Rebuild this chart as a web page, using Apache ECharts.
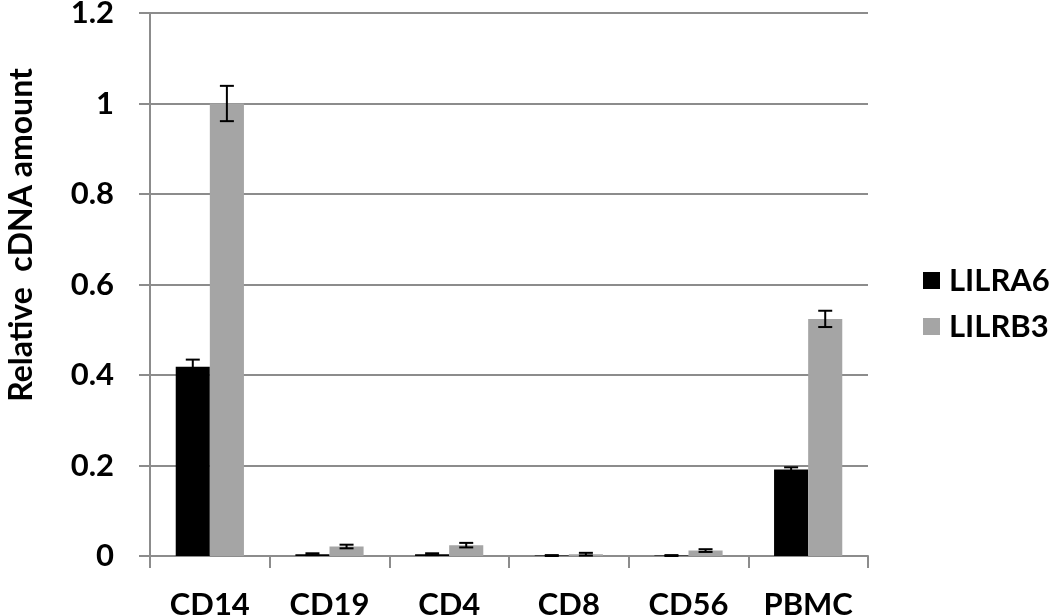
<!DOCTYPE html>
<html>
<head>
<meta charset="utf-8">
<script src="https://cdn.jsdelivr.net/npm/echarts@6/dist/echarts.min.js"></script>
<style>html,body{margin:0;padding:0;background:#fff}#c{width:1050px;height:615px}</style>
</head>
<body>
<div id="c"></div>
<script>
var categories = ['CD14', 'CD19', 'CD4', 'CD8', 'CD56', 'PBMC'];
var seriesNames = ['LILRA6', 'LILRB3'];
var lilra6 = [0.418, 0.004, 0.004, 0.001, 0.001, 0.191];
var lilra6Err = [0.016, 0.002, 0.002, 0.001, 0.001, 0.005];
var lilrb3 = [1.0, 0.021, 0.024, 0.004, 0.012, 0.524];
var lilrb3Err = [0.039, 0.004, 0.005, 0.003, 0.003, 0.018];
var yTicks = [0, 0.2, 0.4, 0.6, 0.8, 1, 1.2];
var yTitle = 'Relative  cDNA amount';

var FONT = 'Lato';
var FS = 31;
var CAT_GAP = 0.43;
var chart = echarts.init(document.getElementById('c'));

function errSeries(idx, vals, errs) {
  var data = vals.map(function (v, i) { return [i, v, errs[i]]; });
  return {
    type: 'custom',
    name: seriesNames[idx] + ' err',
    z: 10,
    silent: true,
    data: data,
    renderItem: function (params, api) {
      var ci = api.value(0), v = api.value(1), e = api.value(2);
      var bandW = api.size([1, 0])[0];
      var bw = bandW * (1 - CAT_GAP) / 2;
      var c = api.coord([ci, v]);
      var x = c[0] + (idx === 0 ? -bw / 2 : bw / 2);
      var top = api.coord([ci, v + e])[1];
      var bot = api.coord([ci, Math.max(v - e, 0)])[1];
      var cap = 7;
      var st = { stroke: '#000', lineWidth: 2 };
      return {
        type: 'group',
        children: [
          { type: 'line', shape: { x1: x, y1: top, x2: x, y2: bot }, style: st },
          { type: 'line', shape: { x1: x - cap, y1: top, x2: x + cap, y2: top }, style: st },
          { type: 'line', shape: { x1: x - cap, y1: bot, x2: x + cap, y2: bot }, style: st }
        ]
      };
    }
  };
}

chart.setOption({
  animation: false,
  grid: { left: 150, right: 182, top: 13, bottom: 59, containLabel: false, outerBoundsMode: 'none' },
  graphic: [{
    type: 'text',
    x: 22,
    y: 235,
    rotation: Math.PI / 2,
    style: {
      text: yTitle,
      fontFamily: FONT, fontWeight: 'bold', fontSize: 32, fill: '#000',
      align: 'center', verticalAlign: 'middle'
    }
  }],
  legend: {
    data: seriesNames,
    orient: 'vertical',
    left: 918,
    top: 260,
    itemWidth: 17,
    itemHeight: 17,
    itemGap: 15,
    icon: 'rect',
    textStyle: { fontFamily: FONT, fontWeight: 'bold', fontSize: FS, color: '#000', padding: [0, 0, 0, 4] }
  },
  xAxis: {
    type: 'category',
    data: categories,
    axisLine: { lineStyle: { color: '#8c8c8c', width: 2 } },
    axisTick: { show: true, length: 12, lineStyle: { color: '#8c8c8c', width: 2 } },
    axisLabel: { fontFamily: FONT, fontWeight: 'bold', fontSize: FS, color: '#000', margin: 33 },
    splitLine: { show: false }
  },
  yAxis: {
    type: 'value',
    min: 0,
    max: 1.2,
    interval: 0.2,
    axisLine: { show: true, lineStyle: { color: '#8c8c8c', width: 2 } },
    axisTick: { show: true, length: 11, lineStyle: { color: '#8c8c8c', width: 2 } },
    axisLabel: {
      fontFamily: FONT, fontWeight: 'bold', fontSize: FS, color: '#000', margin: 36,
      formatter: function (v) {
        for (var i = 0; i < yTicks.length; i++) if (Math.abs(yTicks[i] - v) < 1e-9) return String(yTicks[i]);
        return '';
      }
    },
    splitLine: { show: true, lineStyle: { color: '#8c8c8c', width: 2 } }
  },
  series: [
    { name: seriesNames[0], type: 'bar', data: lilra6, barGap: '0%', barCategoryGap: '43%', itemStyle: { color: '#000000' } },
    { name: seriesNames[1], type: 'bar', data: lilrb3, barGap: '0%', barCategoryGap: '43%', itemStyle: { color: '#a5a5a5' } },
    errSeries(0, lilra6, lilra6Err),
    errSeries(1, lilrb3, lilrb3Err)
  ]
});
</script>
</body>
</html>
